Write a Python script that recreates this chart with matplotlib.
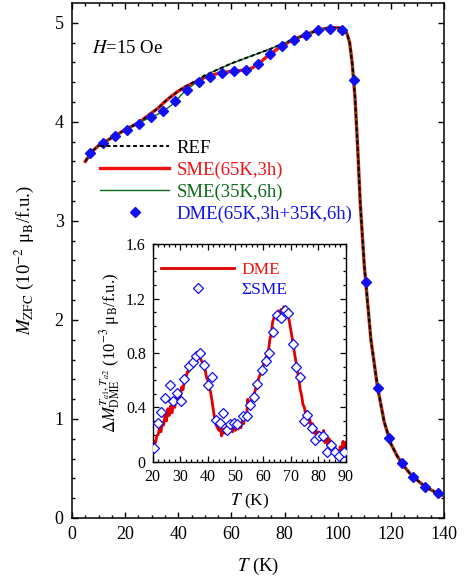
import numpy as np
import matplotlib
matplotlib.use('Agg')
import matplotlib.pyplot as plt

plt.rcParams['font.family'] = ['Liberation Serif', 'DejaVu Serif']
plt.rcParams['mathtext.fontset'] = 'stix'

# main panel: ZFC magnetization curves (10^-2 muB/f.u.)
t_curve = [5, 7.5, 10, 12.5, 15, 17.5, 20, 22.5, 25, 27.5, 30, 32.5, 35, 37.5, 40,
           42.5, 45, 47.5, 50, 52.5, 55, 57.5, 60, 62.5, 65, 67.5, 70, 72.5, 75,
           77.5, 80, 82.5, 85, 87.5, 90, 92.5, 95, 97.5, 100, 101.5, 102.5, 103.5,
           104.5, 105.5, 106.5, 107.5, 108.5, 110, 112.5, 115, 117.5, 120, 122.5,
           125, 127.5, 130, 132.5, 135, 137.5, 140]
m_ref = [3.60, 3.70, 3.76, 3.80, 3.84, 3.88, 3.92, 3.955, 3.99, 4.04, 4.09, 4.14, 4.205,
         4.26, 4.31, 4.355, 4.39, 4.43, 4.47, 4.50, 4.53, 4.56, 4.59, 4.615, 4.64,
         4.665, 4.69, 4.715, 4.74, 4.77, 4.795, 4.825, 4.85, 4.875, 4.90, 4.925, 4.94,
         4.95, 4.95, 4.945, 4.93, 4.89, 4.80, 4.58, 4.25, 3.75, 3.17, 2.55, 1.80,
         1.32, 0.97, 0.75, 0.62, 0.52, 0.44, 0.38, 0.325, 0.285, 0.25, 0.225]
m_sme65 = [3.60, 3.70, 3.76, 3.80, 3.84, 3.88, 3.92, 3.955, 3.99, 4.04, 4.09, 4.14, 4.205,
           4.26, 4.31, 4.35, 4.385, 4.415, 4.45, 4.47, 4.49, 4.50, 4.51, 4.515, 4.525,
           4.54, 4.58, 4.64, 4.69, 4.74, 4.78, 4.82, 4.85, 4.875, 4.90, 4.925, 4.94,
           4.95, 4.95, 4.945, 4.93, 4.89, 4.80, 4.58, 4.25, 3.75, 3.17, 2.55, 1.80,
           1.32, 0.97, 0.75, 0.62, 0.52, 0.44, 0.38, 0.325, 0.285, 0.25, 0.225]
m_sme35 = [3.60, 3.70, 3.76, 3.80, 3.84, 3.88, 3.92, 3.955, 3.985, 4.02, 4.05, 4.08, 4.12,
           4.17, 4.24, 4.31, 4.36, 4.42, 4.465, 4.50, 4.53, 4.56, 4.59, 4.615, 4.64,
           4.665, 4.69, 4.715, 4.74, 4.77, 4.795, 4.825, 4.85, 4.875, 4.90, 4.925, 4.94,
           4.95, 4.95, 4.945, 4.93, 4.89, 4.80, 4.58, 4.25, 3.75, 3.17, 2.55, 1.80,
           1.32, 0.97, 0.75, 0.62, 0.52, 0.44, 0.38, 0.325, 0.285, 0.25, 0.225]
t_dme = [6.8, 11.5, 16.2, 20.6, 25.2, 29.7, 34.2, 38.6, 43.3, 47.8, 52.1, 56.6, 61.1,
         65.6, 70.1, 74.6, 79.2, 83.5, 88.1, 92.7, 97.1, 101.5, 106.2, 110.5, 115.0,
         119.2, 124.1, 128.5, 133.0, 137.6]
m_dme = [3.686, 3.787, 3.858, 3.922, 3.983, 4.046, 4.110, 4.208, 4.326, 4.403, 4.453,
         4.494, 4.511, 4.528, 4.581, 4.682, 4.763, 4.830, 4.877, 4.924, 4.934, 4.924,
         4.427, 2.385, 1.315, 0.804, 0.552, 0.410, 0.316, 0.249]

# inset: memory dips (10^-3 muB/f.u.)
dm_dme = [0.12, 0.15, 0.14, 0.19, 0.20, 0.25, 0.22, 0.29, 0.27, 0.35, 0.30, 0.39, 0.34,
          0.41, 0.36, 0.43, 0.40, 0.47, 0.44, 0.50, 0.48, 0.55, 0.53, 0.60, 0.61, 0.66,
          0.66, 0.71, 0.70, 0.74, 0.74, 0.77, 0.76, 0.79, 0.78, 0.75, 0.73, 0.70, 0.68,
          0.62, 0.60, 0.55, 0.51, 0.45, 0.38, 0.31, 0.27, 0.25, 0.23, 0.25, 0.19, 0.24,
          0.21, 0.25, 0.21, 0.25, 0.22, 0.27, 0.22, 0.26, 0.23, 0.28, 0.24, 0.27, 0.25,
          0.30, 0.28, 0.35, 0.32, 0.46, 0.40, 0.44, 0.46, 0.49, 0.51, 0.55, 0.57, 0.62,
          0.64, 0.68, 0.70, 0.74, 0.76, 0.80, 0.82, 0.90, 0.94, 1.03, 1.06, 1.09, 1.07,
          1.11, 1.09, 1.12, 1.10, 1.14, 1.12, 1.13, 1.08, 1.04, 0.98, 0.92, 0.86, 0.79,
          0.73, 0.66, 0.61, 0.53, 0.49, 0.42, 0.40, 0.34, 0.37, 0.29, 0.31, 0.25, 0.28,
          0.21, 0.24, 0.18, 0.22, 0.17, 0.21, 0.16, 0.23, 0.14, 0.19, 0.12, 0.17, 0.10,
          0.14, 0.08, 0.12, 0.03, 0.08, 0.02, 0.11, 0.05, 0.15, 0.08, 0.14]
t_dme_inset = np.arange(20, 90.01, 0.5)
t_sum = [20.4, 21.9, 23.1, 24.6, 26.2, 27.4, 28.8, 30.3, 31.5, 33.1, 34.5, 35.7, 37.2,
         38.7, 40.1, 41.5, 43.0, 44.3, 45.6, 46.9, 48.2, 49.5, 50.7, 52.6, 54.1, 55.3,
         56.8, 58.0, 59.5, 61.0, 62.2, 63.7, 64.9, 66.5, 67.8, 69.2, 70.8, 72.0, 73.4,
         75.0, 76.1, 77.6, 79.0, 80.3, 81.8, 83.2, 84.6, 86.0, 87.7, 89.4]
dm_sum = [0.099, 0.283, 0.368, 0.471, 0.562, 0.449, 0.503, 0.447, 0.606, 0.704, 0.736,
          0.778, 0.802, 0.712, 0.564, 0.626, 0.307, 0.283, 0.361, 0.233, 0.275, 0.287,
          0.275, 0.336, 0.336, 0.417, 0.475, 0.570, 0.678, 0.738, 0.802, 0.955, 1.079,
          1.055, 1.113, 1.096, 0.865, 0.699, 0.625, 0.300, 0.344, 0.248, 0.163, 0.189,
          0.190, 0.070, 0.125, 0.070, 0.040, 0.071]

RED = '#f01010'
GREEN = '#0a6a1a'
BLUE = '#1010f0'


def main():
    fig = plt.figure(figsize=(4.68, 5.79), dpi=100)
    ax = fig.add_axes([0.1538, 0.1054, 0.7949, 0.8894])

    ax.plot(t_curve, m_sme65, color=RED, lw=2.4, label='SME(65K,3h)', zorder=2)
    ax.plot(t_curve, m_sme35, color=GREEN, lw=1.0, label='SME(35K,6h)', zorder=3)
    ax.plot(t_curve, m_ref, color='black', lw=1.4, ls=(0, (2, 1.4)), label='REF', zorder=4)
    ax.plot(t_dme, m_dme, ls='none', marker='D', ms=5.2, color=BLUE,
            label='DME(65K,3h+35K,6h)', zorder=5)

    ax.set_xlim(0, 140)
    ax.set_ylim(0, 5.2)
    ax.set_xticks(np.arange(0, 141, 20))
    ax.set_xticks(np.arange(0, 141, 5), minor=True)
    ax.set_yticks(np.arange(0, 5.1, 1))
    ax.set_yticks(np.arange(0, 5.2, 0.2), minor=True)
    ax.set_yticklabels(['0', '1', '2', '3', '4', '5'])
    ax.tick_params(which='both', direction='in', top=True, right=True, labelsize=13, width=1.0)
    ax.tick_params(which='major', length=4.5, pad=6)
    ax.tick_params(which='minor', length=2.5)
    for s in ax.spines.values():
        s.set_linewidth(1.1)
    ax.set_xlabel(r'$T$ (K)', fontsize=13.5, labelpad=9)
    ax.set_ylabel(r'$M_{\rm ZFC}$ (10$^{-2}$ μ$_{\rm B}$/f.u.)', fontsize=13.5, labelpad=13)
    ax.text(0.055, 0.903, r'$H$=15 Oe', transform=ax.transAxes, fontsize=13.5)

    h, l = ax.get_legend_handles_labels()
    order = [2, 0, 1, 3]
    leg = ax.legend([h[i] for i in order], [l[i] for i in order], loc='upper left',
                    bbox_to_anchor=(0.075, 0.735), frameon=False, fontsize=13.5,
                    handlelength=3.7, handletextpad=0.4, labelspacing=0.25,
                    borderpad=0, borderaxespad=0, numpoints=1)
    for txt, c in zip(leg.get_texts(), ['black', RED, GREEN, BLUE]):
        txt.set_color(c)

    # inset
    ins = fig.add_axes([0.3263, 0.2026, 0.4124, 0.3755])
    ins.plot(t_dme_inset, dm_dme, color='#e00000', lw=2.0, label='DME', zorder=2)
    ins.plot(t_sum, dm_sum, ls='none', marker='D', ms=4.8, mfc='white', mec=BLUE,
             mew=0.9, label='ΣSME', zorder=3)
    ins.set_xlim(20, 90)
    ins.set_ylim(0, 1.6)
    ins.set_xticks(np.arange(20, 91, 10))
    ins.set_xticks(np.arange(20, 91, 2), minor=True)
    ins.set_yticks([0, 0.4, 0.8, 1.2, 1.6])
    ins.set_yticklabels(['0', '0.4', '0.8', '1.2', '1.6'])
    ins.set_yticks(np.arange(0, 1.61, 0.1), minor=True)
    ins.tick_params(which='both', direction='in', top=True, right=True, labelsize=11.5, width=0.9)
    ins.tick_params(which='major', length=4, pad=5)
    ins.tick_params(which='minor', length=2.2)
    for s in ins.spines.values():
        s.set_linewidth(1.0)
    ins.set_xlabel(r'$T$ (K)', fontsize=12.5, labelpad=5)
    ins.set_ylabel(r'$\Delta M^{T_{a1},T_{a2}}_{\rm DME}$ (10$^{-3}$ μ$_{\rm B}$/f.u.)',
                   fontsize=12, labelpad=3)
    leg2 = ins.legend(loc='upper left', bbox_to_anchor=(0.045, 0.92), frameon=False,
                      fontsize=12.5, handlelength=4.2, handletextpad=0.4,
                      labelspacing=0.25, borderpad=0, borderaxespad=0, numpoints=1)
    for txt, c in zip(leg2.get_texts(), [RED, BLUE]):
        txt.set_color(c)

    fig.savefig('out.png', dpi=100)


if __name__ == '__main__':
    main()
